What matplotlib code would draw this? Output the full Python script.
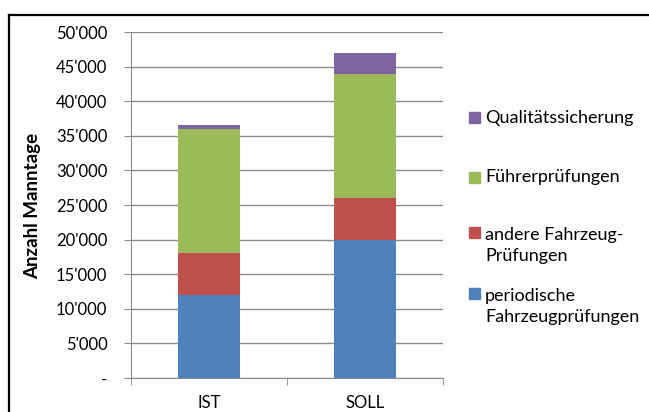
import matplotlib
matplotlib.use("Agg")
import matplotlib.pyplot as plt
from matplotlib.lines import Line2D
from matplotlib.patches import Rectangle
from matplotlib.ticker import FuncFormatter

plt.rcParams["font.family"] = ["Lato", "DejaVu Sans"]

# ── Data ──────────────────────────────────────────────────────────────────────
categories = ["IST", "SOLL"]
periodisch = [12000, 20000]
andere = [6000, 6000]
fuehrer = [18000, 18000]
qualitaet = [500, 3000]

series_labels = ["periodische\nFahrzeugprüfungen", "andere Fahrzeug-\nPrüfungen",
                 "Führerprüfungen", "Qualitätssicherung"]
series_values = [periodisch, andere, fuehrer, qualitaet]
colors = ["#4F81BD", "#C0504D", "#9BBB59", "#8064A2"]

W, H = 649, 412
fig = plt.figure(figsize=(W / 100, H / 100), dpi=100)

# outer chart frame (only left and top edges visible in the crop)
fig.add_artist(Line2D([9 / W, 9 / W], [0, 1 - 15 / H], color="black", lw=1.6,
                      transform=fig.transFigure))
fig.add_artist(Line2D([9 / W, 1], [1 - 15 / H, 1 - 15 / H], color="black", lw=1.6,
                      transform=fig.transFigure))

ax = fig.add_axes([131 / W, 1 - 378 / H, (443 - 131) / W, (378 - 32) / H])

x = list(range(len(categories)))
bottom = [0] * len(categories)
for vals, col in zip(series_values, colors):
    ax.bar(x, vals, width=0.40, bottom=bottom, color=col, zorder=3)
    bottom = [b + v for b, v in zip(bottom, vals)]

ax.set_xlim(-0.5, len(categories) - 0.5)
ax.set_ylim(0, 50000)
ax.set_yticks(range(0, 50001, 5000))
ax.yaxis.set_major_formatter(FuncFormatter(
    lambda v, p: "-" if v == 0 else f"{int(v):,}".replace(",", "'")))
ax.grid(axis="y", color="#8C8C8C", lw=1, zorder=0)

ax.set_xticks(x)
ax.set_xticklabels(categories)
ax.set_xticks([-0.5, 0.5, 1.5], minor=True)
ax.tick_params(axis="x", which="major", length=0, pad=12, labelsize=12)
ax.tick_params(axis="x", which="minor", length=5, color="#8C8C8C", direction="out")
ax.tick_params(axis="y", length=5, color="#8C8C8C", pad=12, labelsize=12)

for s in ["top", "right"]:
    ax.spines[s].set_visible(False)
for s in ["left", "bottom"]:
    ax.spines[s].set_color("#8C8C8C")

fig.text(33 / W, 1 - 206 / H, "Anzahl Manntage", rotation=90, fontsize=13.5,
         fontweight="bold", ha="center", va="center")

# legend, drawn by hand to match the spacing
leg_y = [306.5, 245.5, 177, 118]
for lab, col, yy in zip(series_labels, colors, leg_y):
    first_line_y = yy - (13.5 if "\n" in lab else 0)
    fig.add_artist(Rectangle((469 / W, 1 - (first_line_y + 5.5) / H), 11 / W, 11 / H,
                             color=col, transform=fig.transFigure))
    fig.text(485 / W, 1 - yy / H, lab, fontsize=13, ha="left", va="center",
             linespacing=1.45)

fig.savefig("out.png", dpi=100)
